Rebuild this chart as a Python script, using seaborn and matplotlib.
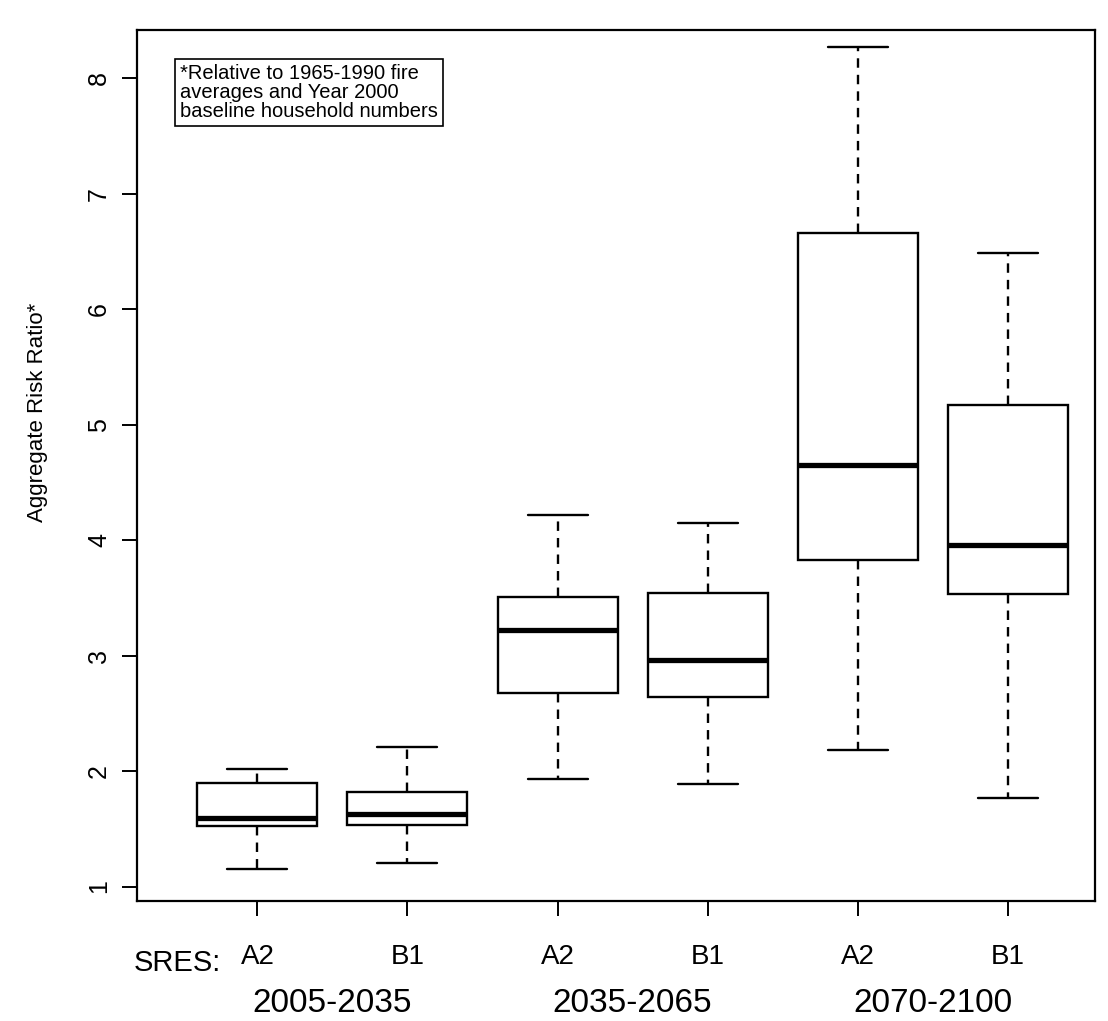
import matplotlib

matplotlib.use("Agg")

import matplotlib.pyplot as plt
import matplotlib.transforms as mtransforms
import pandas as pd
import seaborn as sns

scenarios = ["A2", "B1", "A2", "B1", "A2", "B1"]
periods = ["2005-2035", "2035-2065", "2070-2100"]

# five-number summaries
whisker_low = [1.15, 1.20, 1.93, 1.89, 2.18, 1.77]
q1 = [1.52, 1.53, 2.68, 2.64, 3.83, 3.53]
median = [1.59, 1.63, 3.22, 2.96, 4.65, 3.96]
q3 = [1.90, 1.82, 3.51, 3.54, 6.66, 5.17]
whisker_high = [2.02, 2.21, 4.22, 4.15, 8.27, 6.49]

y_ticks = [1, 2, 3, 4, 5, 6, 7, 8]
note = "*Relative to 1965-1990 fire\naverages and Year 2000\nbaseline household numbers"


def build_frame() -> pd.DataFrame:
    rows = []
    for i, scen in enumerate(scenarios):
        group = f"{periods[i // 2]} {scen}"
        for stat in (whisker_low, q1, median, q3, whisker_high):
            rows.append({"group": group, "value": stat[i]})
    return pd.DataFrame(rows)


df = build_frame()
order = list(dict.fromkeys(df["group"]))

sns.set_style("ticks")
plt.rcParams["font.family"] = ["Liberation Sans", "DejaVu Sans"]
plt.rcParams["text.color"] = "black"
plt.rcParams["axes.labelcolor"] = "black"
plt.rcParams["xtick.color"] = "black"
plt.rcParams["ytick.color"] = "black"

fig = plt.figure(figsize=(11.08, 10.21), dpi=100)
ax = fig.add_axes([0.124, 0.118, 0.864, 0.853])

sns.boxplot(
    data=df,
    x="group",
    y="value",
    order=order,
    whis=(0, 100),
    width=0.8,
    color="white",
    linecolor="black",
    linewidth=1.7,
    showfliers=False,
    medianprops={"linewidth": 3.8},
    whiskerprops={"linestyle": (0, (4, 3))},
    ax=ax,
)

ax.set_xlim(-0.8, 5.58)
ax.set_ylim(0.879, 8.42)

for side in ["top", "right", "left", "bottom"]:
    ax.spines[side].set_visible(True)
    ax.spines[side].set_color("black")
    ax.spines[side].set_linewidth(1.6)

ax.set_yticks(y_ticks)
ax.set_yticklabels([str(t) for t in y_ticks], rotation=90, va="center", fontsize=18)
ax.set_xticks(range(len(scenarios)))
ax.set_xticklabels(scenarios, fontsize=20)
ax.tick_params(axis="y", length=11, width=1.4, pad=8, colors="black")
ax.tick_params(axis="x", length=11, width=1.4, pad=20, colors="black")

ax.set_xlabel("")
ax.set_ylabel("Aggregate Risk Ratio*", fontsize=16, color="black")
ax.yaxis.set_label_coords(-0.093, 0.56)

trans = mtransforms.blended_transform_factory(ax.transData, ax.transAxes)
ax.text(-0.24, -0.072, "SRES:", transform=trans, ha="right", va="center", fontsize=21)
for k, period in enumerate(periods):
    ax.text(2 * k + 0.5, -0.118, period, transform=trans, ha="center", va="center", fontsize=24)

ax.text(
    0.045,
    0.96,
    note,
    transform=ax.transAxes,
    ha="left",
    va="top",
    fontsize=14.5,
    linespacing=1.0,
    bbox={"boxstyle": "square,pad=0.25", "fc": "white", "ec": "black", "lw": 1.2},
)

fig.savefig("out.png", dpi=100)
